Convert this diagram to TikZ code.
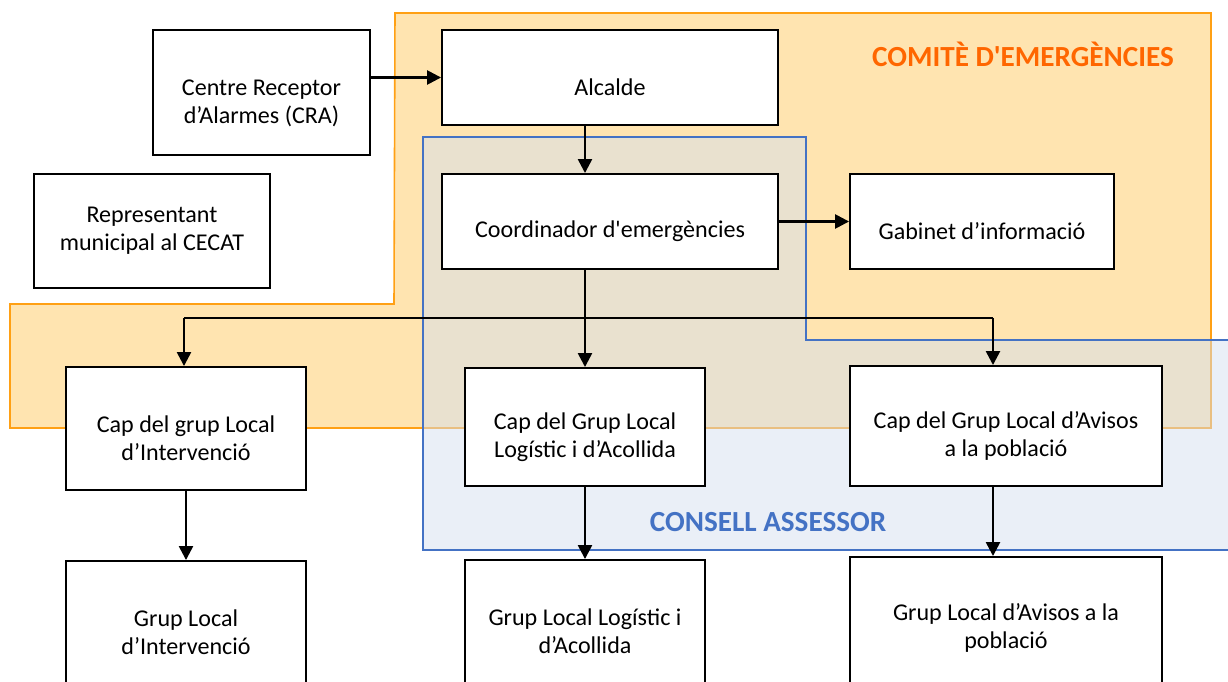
\documentclass[tikz,border=0pt]{standalone}
\usepackage{fontspec}
\setmainfont{Carlito}
\usetikzlibrary{arrows.meta}
\definecolor{comitefill}{RGB}{255,228,176}
\definecolor{comiteline}{RGB}{255,160,20}
\definecolor{comitetext}{RGB}{255,102,0}
\definecolor{consellfill}{RGB}{213,223,239}
\definecolor{consellline}{RGB}{68,114,196}
\newcommand{\hi}{\rule{0pt}{21pt}}

\begin{document}
\begin{tikzpicture}
  [x=0.02cm,y=-0.02cm,>={Triangle[length=2.8mm,width=2.8mm]},
   every node/.style={draw,fill=white,line width=1.1pt,align=center,
     inner sep=0pt,font=\fontsize{13.7}{16}\selectfont},
   title/.style={draw=none,fill=none,font=\fontsize{16.6}{19}\selectfont\bfseries}]
  \useasboundingbox (0,0) rectangle (1228,682);
  % the two committees
  \filldraw[fill=comitefill,draw=comiteline,line width=0.9pt]
    (395,13) -- (1211,13) -- (1211,428) -- (10,428) -- (10,304) -- (394,304) -- cycle;
  \filldraw[fill=consellfill,fill opacity=0.5,draw=consellline,line width=0.8pt]
    (423,137) -- (806,137) -- (806,340) -- (1240,340) -- (1240,550) -- (423,550) -- cycle;
  \node[title,text=comitetext] (comite) at (1023,54) {COMITÈ D\textquotesingle EMERGÈNCIES};
  \node[title,text=consellline] (consell) at (768,522) {CONSELL ASSESSOR};
  % boxes
  \node[minimum width=4.34cm,minimum height=2.5cm] (cra) at (261.5,92.5) {\hi Centre Receptor\\d’Alarmes (CRA)};
  \node[minimum width=4.72cm,minimum height=2.28cm] (repr) at (152,231) {Representant\\municipal al CECAT};
  \node[minimum width=6.72cm,minimum height=1.9cm] (alc) at (610,77.5) {\hi Alcalde};
  \node[minimum width=6.72cm,minimum height=1.9cm] (coord) at (610,221.5) {\hi Coordinador d\textquotesingle emergències};
  \node[minimum width=5.28cm,minimum height=1.9cm] (gab) at (982,221.5) {\hi Gabinet d’informació};
  \node[minimum width=4.8cm,minimum height=2.46cm] (capint) at (186,428.5) {\hi Cap del grup Local\\d’Intervenció};
  \node[minimum width=4.8cm,minimum height=2.36cm] (caplog) at (585,427) {\hi Cap del Grup Local\\Logístic i d’Acollida};
  \node[minimum width=6.24cm,minimum height=2.4cm] (capav) at (1006,426) {\hi Cap del Grup Local d’Avisos\\a la població};
  \node[minimum width=4.8cm,minimum height=2.84cm] (grint) at (186,632) {Grup Local\\d’Intervenció};
  \node[minimum width=4.8cm,minimum height=2.84cm] (grlog) at (585,631) {Grup Local Logístic i\\d’Acollida};
  \node[minimum width=6.24cm,minimum height=2.84cm] (grav) at (1006,628) {Grup Local d’Avisos a la\\població};
  % connectors
  \coordinate (bl) at (184,318);
  \coordinate (bm) at (585,318);
  \coordinate (br) at (993,318);
  \draw[->,line width=1.4pt] (cra.east |- alc) -- (alc.west);
  \draw[->,line width=1.4pt] (alc.south -| bm) -- (coord.north -| bm);
  \draw[line width=1.4pt] (coord.south -| bm) -- (bm);
  \draw[line width=1.4pt] (bl) -- (br);
  \foreach \from/\to in {coord/gab}
    \draw[->,line width=1.4pt] (\from) -- (\to);
  \foreach \from/\to in {bl/capint,bm/caplog,br/capav}
    \draw[->,line width=1.4pt] (\from) -- (\from |- \to.north);
  \foreach \from/\to in {capint/grint,caplog/grlog}
    \draw[->,line width=1.4pt] (\from) -- (\to);
  \draw[->,line width=1.4pt] (br |- capav.south) -- (br |- grav.north);
\end{tikzpicture}
\end{document}
